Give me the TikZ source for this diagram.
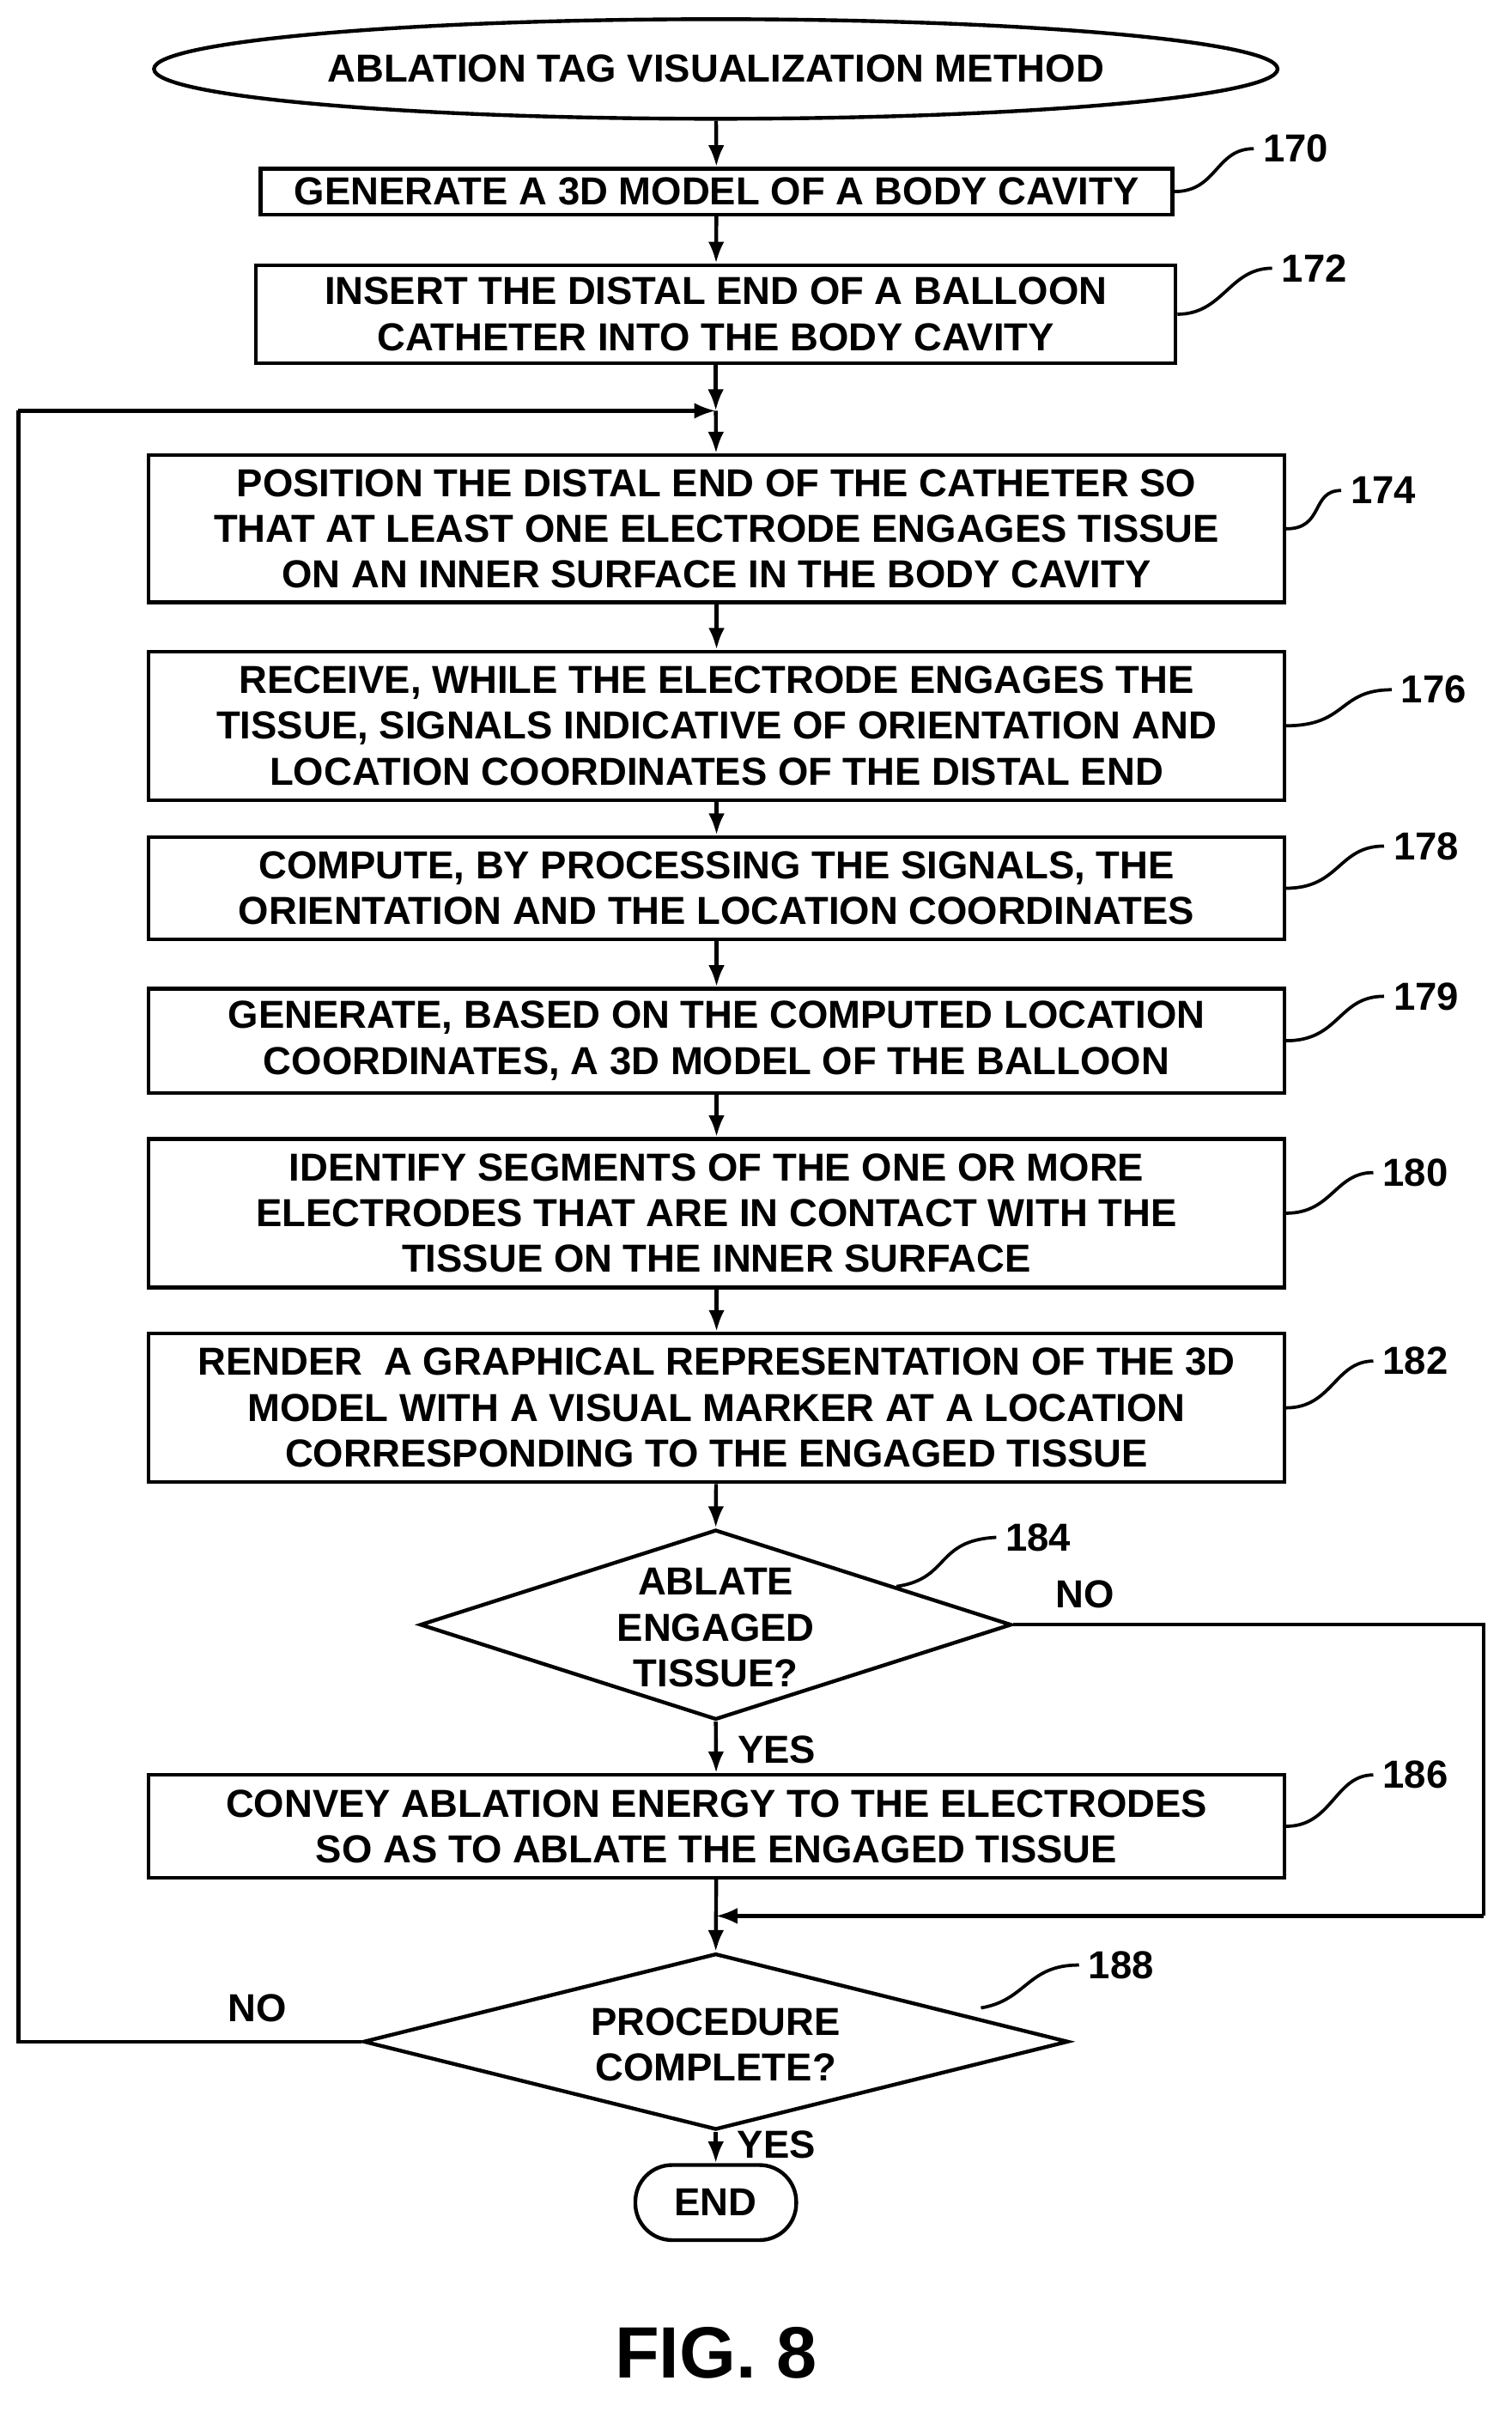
\documentclass[tikz,border=0pt]{standalone}
\usepackage{fontspec}
\setmainfont{Liberation Sans}
\usetikzlibrary{shapes.geometric,arrows.meta}
\begin{document}
\begin{tikzpicture}[x=0.02cm,y=-0.02cm,
  every node/.style={font=\bfseries\fontsize{14.5}{17}\selectfont},
  box/.style={draw,line width=1.4pt,align=center,minimum width=14.82cm,inner sep=0pt},
  dia/.style={draw,line width=1.4pt,shape=diamond,inner sep=0pt},
  ln/.style={line width=1.4pt},
  arr/.style={ln,-{Latex[length=8pt,width=6pt]}},
  sq/.style={line width=1.2pt},
  num/.style={font=\bfseries\fontsize{14.5}{17}\selectfont,anchor=west}]
\useasboundingbox (0,0) rectangle (986,1573);
\node[draw,line width=1.4pt,ellipse,minimum width=11.9cm,minimum height=1.3cm] (start) at (467,45) {ABLATION TAG VISUALIZATION METHOD};
\node[box,minimum width=11.9cm,minimum height=0.6cm] (b170) at (467.5,125) {GENERATE A 3D MODEL OF A BODY CAVITY};
\node[box,minimum width=12cm,minimum height=1.28cm] (b172) at (467,205) {INSERT THE DISTAL END OF A BALLOON\\CATHETER INTO THE BODY CAVITY};
\coordinate (m) at (467,268);
\coordinate (lt) at (12,268);
\node[box,minimum height=1.92cm] (b174) at (467.5,345) {POSITION THE DISTAL END OF THE CATHETER SO\\THAT AT LEAST ONE ELECTRODE ENGAGES TISSUE\\ON AN INNER SURFACE IN THE BODY CAVITY};
\node[box,minimum height=1.94cm] (b176) at (467.5,473.5) {RECEIVE, WHILE THE ELECTRODE ENGAGES THE\\TISSUE, SIGNALS INDICATIVE OF ORIENTATION AND\\LOCATION COORDINATES OF THE DISTAL END};
\node[box,minimum height=1.34cm] (b178) at (467.5,579.5) {COMPUTE, BY PROCESSING THE SIGNALS, THE\\ORIENTATION AND THE LOCATION COORDINATES};
\node[box,minimum height=1.36cm] (b179) at (467.5,679) {GENERATE, BASED ON THE COMPUTED LOCATION\\COORDINATES, A 3D MODEL OF THE BALLOON};
\node[box,minimum height=1.94cm] (b180) at (467.5,791.5) {IDENTIFY SEGMENTS OF THE ONE OR MORE\\ELECTRODES THAT ARE IN CONTACT WITH THE\\TISSUE ON THE INNER SURFACE};
\node[box,minimum height=1.94cm] (b182) at (467.5,918.5) {RENDER\ \ A GRAPHICAL REPRESENTATION OF THE 3D\\MODEL WITH A VISUAL MARKER AT A LOCATION\\CORRESPONDING TO THE ENGAGED TISSUE};
\node[dia,minimum width=7.72cm,minimum height=2.48cm] (d184) at (467,1060) {};
\node[align=center] (t184) at (467,1062) {ABLATE\\ENGAGED\\TISSUE?};
\node[box,minimum height=1.34cm] (b186) at (467.5,1191.5) {CONVEY ABLATION ENERGY TO THE ELECTRODES\\SO AS TO ABLATE THE ENGAGED TISSUE};
\coordinate (r1) at (968,1060);
\coordinate (r2) at (968,1250);
\coordinate (j) at (467,1250);
\node[dia,minimum width=9.2cm,minimum height=2.3cm] (d188) at (467,1332) {};
\node[align=center] (t188) at (467,1334) {PROCEDURE\\COMPLETE?};
\coordinate (lb) at (12,1332);
\node[draw,line width=1.4pt,rounded corners=0.48cm,minimum width=2.1cm,minimum height=0.98cm] (end) at (467,1437) {END};
\node[font=\bfseries\fontsize{27}{30}\selectfont] (fig) at (467,1535) {FIG. 8};
\draw[arr] (start) -- (b170);
\draw[arr] (b170) -- (b172);
\draw[arr] (b172) -- (m);
\draw[arr] (m) -- (b174);
\draw[arr] (b174) -- (b176);
\draw[arr] (b176) -- (b178);
\draw[arr] (b178) -- (b179);
\draw[arr] (b179) -- (b180);
\draw[arr] (b180) -- (b182);
\draw[arr] (b182) -- (d184.north);
\draw[arr] (d184.south) -- node[right,xshift=4pt,yshift=-1pt]{YES} (b186);
\draw[ln] (d184.east) -- (r1) -- (r2);
\draw[arr] (r2) -- (j);
\draw[arr] (b186) -- (d188.north);
\draw[ln] (d188.west) -- (lb) -- (lt);
\draw[arr] (lt) -- (m);
\draw[arr] (d188.south) -- node[right,xshift=4pt,yshift=1pt]{YES} (end);
\node at (708,1040) {NO};
\node at (168,1310) {NO};
\node[num] (n170) at (818,97) {170};
\node[num] (n172) at (830,175) {172};
\node[num] (n174) at (875,320) {174};
\node[num] (n176) at (908,450) {176};
\node[num] (n178) at (903,552) {178};
\node[num] (n179) at (903,650) {179};
\node[num] (n180) at (896,765) {180};
\node[num] (n182) at (896,888) {182};
\node[num] (n184) at (650,1003) {184};
\node[num] (n186) at (896,1158) {186};
\node[num] (n188) at (704,1282) {188};
\draw[sq] (b170.east) .. controls +(28,0) and +(-25,0) .. (n170.west);
\draw[sq] (b172.east) .. controls +(30,0) and +(-28,0) .. (n172.west);
\draw[sq] (b174.east) .. controls +(25,0) and +(-20,0) .. (n174.west);
\draw[sq] (b176.east) .. controls +(40,0) and +(-35,0) .. (n176.west);
\draw[sq] (b178.east) .. controls +(35,0) and +(-30,0) .. (n178.west);
\draw[sq] (b179.east) .. controls +(35,0) and +(-30,0) .. (n179.west);
\draw[sq] (b180.east) .. controls +(30,0) and +(-25,0) .. (n180.west);
\draw[sq] (b182.east) .. controls +(30,0) and +(-25,0) .. (n182.west);
\draw[sq] (585,1035) .. controls (620,1030) and (610,1005) .. (n184.west);
\draw[sq] (b186.east) .. controls +(30,0) and +(-25,0) .. (n186.west);
\draw[sq] (640,1310) .. controls (670,1305) and (670,1282) .. (n188.west);
\end{tikzpicture}
\end{document}
